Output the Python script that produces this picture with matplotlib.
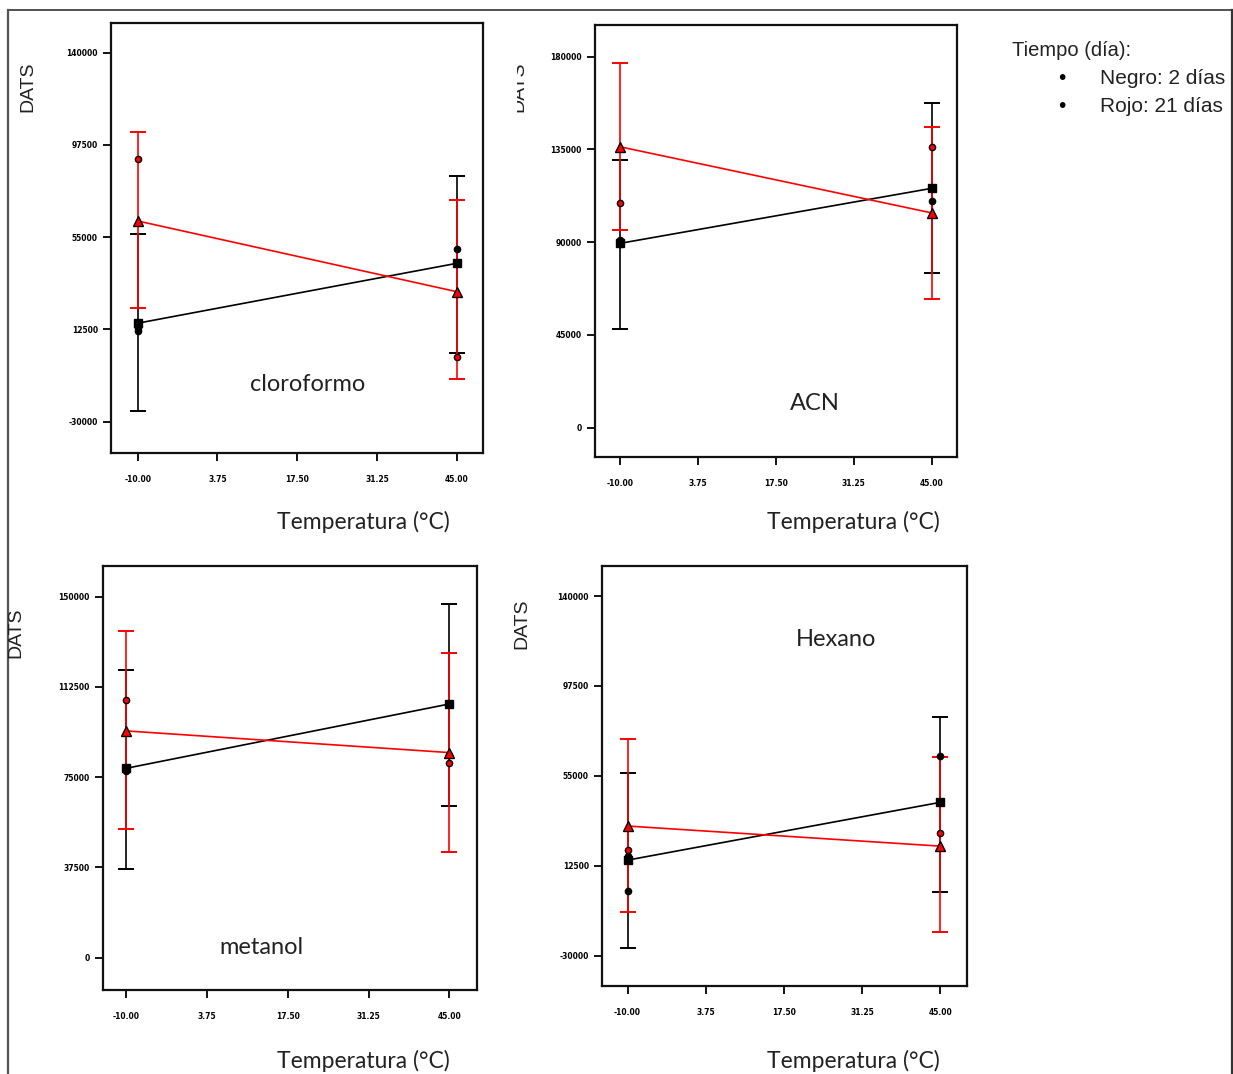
import matplotlib
matplotlib.use("Agg")
import matplotlib.pyplot as plt
from matplotlib.patches import Rectangle
from matplotlib.lines import Line2D

W, H = 1233, 1074

# x positions (temperature, °C)
temps = [-10, 45]
xtick_vals = [-10, 3.75, 17.5, 31.25, 45]
xtick_labels = ["-10.00", "3.75", "17.50", "31.25", "45.00"]

solvents = ["cloroformo", "ACN", "metanol", "Hexano"]

# black = 2 days, red = 21 days: mean, lower/upper error bar, raw points
black_mean = [[15400, 43000], [89400, 116100], [78700, 105400], [15200, 42500]]
black_lo = [[-25000, 1900], [47700, 75100], [36700, 63200], [-26200, 200]]
black_hi = [[56400, 83400], [129800, 157400], [119300, 147000], [56500, 83000]]
red_mean = [[62500, 29900], [136300, 104200], [94200, 85200], [31300, 21800]]
red_lo = [[22300, -10200], [95800, 62500], [53400, 44000], [-9200, -18700]]
red_hi = [[103600, 72200], [177100, 145700], [135900, 126700], [72400, 63700]]
black_pts = [[[13200, 12000], [49600]], [[91000, 89000], [109900]],
             [[77500], [84200]], [[17000, 700], [64400]]]
red_pts = [[[91000], [0]], [[109100], [136300]],
           [[107100], [81000]], [[19900], [27800]]]

ytick_vals = [[-30000, 12500, 55000, 97500, 140000],
              [0, 45000, 90000, 135000, 180000],
              [0, 37500, 75000, 112500, 150000],
              [-30000, 12500, 55000, 97500, 140000]]
ylims = [(-44400, 153700), (-14300, 195400), (-13400, 162700), (-44300, 154200)]
xlims = [(-14.6, 49.5), (-14.4, 49.5), (-14.0, 49.7), (-14.5, 49.7)]

# axes boxes in pixels (left, top, right, bottom)
boxes = [(111, 23, 483, 453), (595, 25, 957, 457),
         (103, 566, 477, 990), (602, 566, 967, 986)]
name_pos = [(308, 385), (815, 404), (261, 948), (836, 640)]
ylab_pos = [(28, 87), (519, 87), (16, 633), (522, 624)]
xlab_pos = [(363, 522), (853, 522), (363, 1061), (853, 1061)]

fig = plt.figure(figsize=(W / 100, H / 100), dpi=100)

for i in range(4):
    l, t, r, b = boxes[i]
    ax = fig.add_axes([l / W, 1 - b / H, (r - l) / W, (b - t) / H])
    for sp in ax.spines.values():
        sp.set_linewidth(1.6)
        sp.set_color("#111111")

    # black series (2 días)
    ax.plot(temps, black_mean[i], color="black", lw=1.2, zorder=3)
    for j, x in enumerate(temps):
        m = black_mean[i][j]
        ax.errorbar([x], [m], yerr=[[m - black_lo[i][j]], [black_hi[i][j] - m]],
                    fmt="none", ecolor="black", elinewidth=1.2, capsize=6,
                    capthick=1.4, zorder=2)
    # red series (21 días)
    ax.plot(temps, red_mean[i], color="#ff0000", lw=1.2, zorder=3)
    for j, x in enumerate(temps):
        m = red_mean[i][j]
        ax.errorbar([x], [m], yerr=[[m - red_lo[i][j]], [red_hi[i][j] - m]],
                    fmt="none", ecolor="#ff0000", elinewidth=1.2, capsize=6,
                    capthick=1.4, zorder=2.5)

    # raw points
    for j, x in enumerate(temps):
        for v in black_pts[i][j]:
            ax.plot([x], [v], "o", ms=4.5, color="black", zorder=4)
        for v in red_pts[i][j]:
            ax.plot([x], [v], "o", ms=4.5, mfc="#ff0000", mec="black",
                    mew=1.0, zorder=4)
    ax.plot(temps, black_mean[i], "s", ms=5.5, color="black", zorder=5)
    ax.plot(temps, red_mean[i], "^", ms=6.5, mfc="#ff0000", mec="black",
            mew=1.0, zorder=5)

    ax.set_xlim(*xlims[i])
    ax.set_ylim(*ylims[i])
    ax.set_xticks(xtick_vals)
    ax.set_xticklabels(xtick_labels)
    ax.set_yticks(ytick_vals[i])
    ax.set_yticklabels([str(v) for v in ytick_vals[i]])
    ax.tick_params(direction="out", length=5.5, width=1.4, labelsize=5.5,
                   color="#111111")
    ax.tick_params(axis="x", pad=10)
    ax.tick_params(axis="y", pad=4)
    for lab in ax.get_xticklabels() + ax.get_yticklabels():
        lab.set_fontweight("bold")

    fig.text(name_pos[i][0] / W, 1 - name_pos[i][1] / H, solvents[i],
             family="Lato", fontsize=17, ha="center", va="center",
             color="#222222")
    yl = fig.text(ylab_pos[i][0] / W, 1 - ylab_pos[i][1] / H, "DATS",
                  family="Liberation Sans", fontsize=14, rotation=90,
                  ha="center", va="center", color="#222222")
    if i == 1:
        clip = Rectangle((517 / W, 0), 0.2, 1, transform=fig.transFigure)
        yl.set_clip_path(clip)
    fig.text(xlab_pos[i][0] / W, 1 - xlab_pos[i][1] / H, "Temperatura (°C)",
             family="Lato", fontsize=16.5, ha="center", va="center",
             color="#222222")

# legend text block
fig.text(1012 / W, 1 - 50 / H, "Tiempo (día):", family="Liberation Sans",
         fontsize=14.5, ha="left", va="center", color="#222222")
for k, txt in enumerate(["Negro: 2 días", "Rojo: 21 días"]):
    yy = 1 - (78 + 29 * k) / H
    fig.text(1062 / W, yy, "\u2022", family="DejaVu Sans", fontsize=14,
             ha="center", va="center", color="black")
    fig.text(1100 / W, yy, txt, family="Liberation Sans", fontsize=15,
             ha="left", va="center", color="#222222")

# outer frame
fig.add_artist(Line2D([8 / W, 1232 / W], [1 - 10 / H, 1 - 10 / H],
                      color="#333333", lw=1.2))
fig.add_artist(Line2D([8 / W, 8 / W], [0, 1 - 10 / H], color="#555555", lw=1.6))
fig.add_artist(Line2D([1232 / W, 1232 / W], [0, 1 - 10 / H],
                      color="#333333", lw=1.6))

fig.savefig("out.png", dpi=100)
